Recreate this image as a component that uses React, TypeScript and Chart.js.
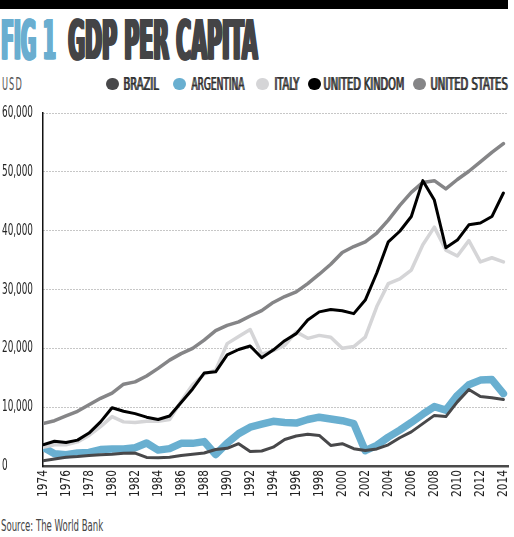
import { useEffect, useLayoutEffect, useRef, useState } from "react";
import Chart from "chart.js/auto";

// years on the x axis
const years = [
  1974, 1975, 1976, 1977, 1978, 1979, 1980, 1981, 1982, 1983, 1984, 1985, 1986, 1987,
  1988, 1989, 1990, 1991, 1992, 1993, 1994, 1995, 1996, 1997, 1998, 1999, 2000, 2001,
  2002, 2003, 2004, 2005, 2006, 2007, 2008, 2009, 2010, 2011, 2012, 2013, 2014,
];
const xTickYears = [
  1974, 1976, 1978, 1980, 1982, 1984, 1986, 1988, 1990, 1992, 1994, 1996, 1998, 2000,
  2002, 2004, 2006, 2008, 2010, 2012, 2014,
];
const yTickValues = [0, 10000, 20000, 30000, 40000, 50000, 60000];

// GDP per capita, USD
const brazil = [
  900, 1200, 1500, 1600, 1800, 1900, 2000, 2150, 2200, 1450, 1400, 1500, 1800, 2000,
  2200, 2800, 3000, 3800, 2450, 2550, 3200, 4500, 5100, 5400, 5200, 3500, 3800, 2950,
  2650, 2900, 3600, 4800, 5800, 7200, 8600, 8400, 10900, 13000, 11800, 11600, 11300,
];
const argentina = [
  3200, 2100, 1900, 2200, 2300, 2800, 2900, 2900, 3100, 3900, 2700, 2950, 3850, 3850,
  4150, 1950, 3900, 5500, 6600, 7100, 7600, 7400, 7300, 7900, 8300, 8000, 7700, 7200,
  2600, 3500, 4900, 6100, 7400, 8800, 10100, 9500, 12000, 13800, 14600, 14700, 12300,
];
const italy = [
  3200, 3600, 3600, 4100, 5200, 6700, 8400, 7500, 7400, 7600, 7600, 7900, 11000, 13800,
  15600, 16300, 20800, 22000, 23200, 19000, 19600, 20500, 22800, 21700, 22200, 21900,
  20000, 20300, 21900, 27100, 31000, 31800, 33300, 37600, 40600, 36700, 35700, 38300,
  34700, 35400, 34700,
];
const unitedKingdom = [
  3600, 4200, 4000, 4400, 5600, 7500, 9900, 9300, 8900, 8300, 7900, 8500, 10800, 13100,
  15800, 16000, 18900, 19800, 20400, 18400, 19700, 21300, 22500, 24800, 26200, 26600,
  26400, 25900, 28200, 32800, 38100, 39900, 42400, 48500, 45200, 37100, 38400, 41000,
  41300, 42400, 46400,
];
const unitedStates = [
  7200, 7700, 8500, 9300, 10400, 11500, 12400, 13900, 14300, 15300, 16600, 18000, 19100,
  20000, 21400, 23000, 23900, 24500, 25500, 26400, 27800, 28800, 29600, 31000, 32600,
  34300, 36300, 37300, 38100, 39600, 41800, 44300, 46500, 48200, 48500, 47100, 48700,
  50100, 51700, 53300, 54800,
];

const seriesNames = ["BRAZIL", "ARGENTINA", "ITALY", "UNITED KINDOM", "UNITED STATES"];

const COLORS = {
  brazil: "#48484a",
  argentina: "#69afd0",
  italy: "#d5d5d7",
  uk: "#000000",
  us: "#858587",
};

const condensed = '"DejaVu Sans Condensed", "Liberation Sans Narrow", "DejaVu Sans", sans-serif';

// text squeezed horizontally to a given width (the original uses a very narrow face)
function Fit(props: {
  text: string;
  left: number;
  top: number;
  width: number;
  size: number;
  color: string;
  weight?: number;
  spacing?: number;
  heavy?: number; // extra horizontal emboldening, in unscaled px
}) {
  const ref = useRef<HTMLSpanElement | null>(null);
  const [k, setK] = useState(1);
  const heavy = props.heavy ?? 0;

  useLayoutEffect(() => {
    if (ref.current) setK(props.width / (ref.current.offsetWidth + heavy));
  }, [props.text, props.width, props.size, heavy]);

  const shadows: string[] = [];
  for (let s = 1.5; s <= heavy; s += 1.5) shadows.push(`${s}px 0 0 ${props.color}`);

  return (
    <span
      ref={ref}
      style={{
        position: "absolute",
        left: props.left,
        top: props.top,
        fontFamily: condensed,
        fontSize: props.size,
        lineHeight: `${props.size}px`,
        fontWeight: props.weight ?? 400,
        letterSpacing: props.spacing ?? 0,
        color: props.color,
        whiteSpace: "nowrap",
        textShadow: shadows.length ? shadows.join(", ") : undefined,
        transform: `scaleX(${k})`,
        transformOrigin: "0 0",
      }}
    >
      {props.text}
    </span>
  );
}

// draws the tick labels in a narrow style, placed by the chart's own scales
const narrowTicks = {
  id: "narrowTicks",
  afterDraw(chart: any) {
    const { ctx, scales } = chart;
    const x = scales.x;
    const y = scales.y;
    ctx.save();
    ctx.fillStyle = "#222";
    ctx.textBaseline = "middle";

    ctx.font = `16px ${condensed}`;
    const ky = 31 / ctx.measureText("60,000").width;
    ctx.textAlign = "left";
    y.ticks.forEach((t: any, i: number) => {
      const py = y.getPixelForTick(i);
      ctx.save();
      ctx.translate(2, py);
      ctx.scale(ky, 1);
      ctx.fillText(t.value.toLocaleString("en-US"), 0, 0);
      ctx.restore();
    });

    ctx.font = `14px ${condensed}`;
    const kx = 27 / ctx.measureText("1974").width;
    ctx.textAlign = "right";
    x.ticks.forEach((t: any, i: number) => {
      const px = x.getPixelForTick(i);
      ctx.save();
      ctx.translate(px, chart.chartArea.bottom + 4);
      ctx.rotate(-Math.PI / 2);
      ctx.scale(kx, 1);
      ctx.fillText(String(t.value), 0, 0);
      ctx.restore();
    });
    ctx.restore();
  },
};

function GdpChart() {
  const canvasRef = useRef<HTMLCanvasElement | null>(null);
  const chartRef = useRef<Chart | null>(null);

  useEffect(() => {
    if (!canvasRef.current) return;
    if (chartRef.current) chartRef.current.destroy();

    const toPoints = (vals: number[]) => vals.map((v, i) => ({ x: years[i], y: v }));

    // first dataset is painted on top
    const datasets = [
      { label: seriesNames[0], data: toPoints(brazil), borderColor: COLORS.brazil, borderWidth: 3 },
      { label: seriesNames[3], data: toPoints(unitedKingdom), borderColor: COLORS.uk, borderWidth: 3 },
      { label: seriesNames[4], data: toPoints(unitedStates), borderColor: COLORS.us, borderWidth: 3.5 },
      { label: seriesNames[2], data: toPoints(italy), borderColor: COLORS.italy, borderWidth: 3.5 },
      { label: seriesNames[1], data: toPoints(argentina), borderColor: COLORS.argentina, borderWidth: 7.5 },
    ].map((d) => ({
      ...d,
      pointRadius: 0,
      tension: 0,
      fill: false,
      borderJoinStyle: "round" as const,
      borderCapStyle: "round" as const,
    }));

    chartRef.current = new Chart(canvasRef.current, {
      type: "line",
      data: { datasets },
      options: {
        animation: false,
        responsive: true,
        maintainAspectRatio: false,
        layout: { padding: { top: 13, left: 2, right: 6, bottom: 0 } },
        plugins: {
          legend: { display: false },
          tooltip: { enabled: false },
        },
        scales: {
          x: {
            type: "linear",
            min: 1974,
            max: 2014.4,
            grid: { display: false },
            border: { display: true, color: "#4a4a4a", width: 2.5 },
            ticks: { display: false },
            afterBuildTicks: (scale: any) => {
              scale.ticks = xTickYears.map((v) => ({ value: v }));
            },
            afterFit: (scale: any) => {
              scale.height = 44;
            },
          },
          y: {
            min: 0,
            max: 60000,
            grid: {
              color: (c: any) => (c.tick && c.tick.value === 0 ? "transparent" : "#8e8e8e"),
              lineWidth: 1,
              drawTicks: false,
            },
            // in Chart.js 4 the grid line dash lives under border
            border: { display: true, color: "#111", width: 1.5, dash: [1, 2] },
            ticks: { display: false, stepSize: 10000 },
            afterBuildTicks: (scale: any) => {
              scale.ticks = yTickValues.map((v) => ({ value: v }));
            },
            afterFit: (scale: any) => {
              scale.width = 41;
            },
          },
        },
      },
      plugins: [narrowTicks],
    });

    return () => {
      if (chartRef.current) {
        chartRef.current.destroy();
        chartRef.current = null;
      }
    };
  }, []);

  return (
    <div style={{ position: "absolute", left: 0, top: 100, width: 514, height: 410 }}>
      <canvas ref={canvasRef} />
    </div>
  );
}

// legend marker positions
const legendCircleX = [106, 173, 256, 308, 413];
const legendTextX = [123, 191, 274, 323, 430];
const legendTextW = [36, 54, 26, 82, 78];
const legendColors = [COLORS.brazil, COLORS.argentina, COLORS.italy, COLORS.uk, COLORS.us];

export default function App() {
  return (
    <div
      style={{
        position: "absolute",
        left: 0,
        top: 0,
        width: 514,
        height: 537,
        background: "#fff",
        overflow: "hidden",
      }}
    >
      <div style={{ position: "absolute", left: 0, top: 0, width: 508, height: 9, background: "#000" }} />

      <Fit text="FIG 1" left={0} top={12} width={57} size={56} color="#6aaed0" weight={700} heavy={6} />
      <Fit text="GDP PER CAPITA" left={67} top={12} width={192} size={56} color="#444446" weight={700} heavy={6} />

      <Fit text="USD" left={2} top={75.5} width={21} size={17} color="#555" spacing={2} />
      {seriesNames.map((name, i) => (
        <div key={name}>
          <div
            style={{
              position: "absolute",
              left: legendCircleX[i],
              top: 77.5,
              width: 12.5,
              height: 12.5,
              borderRadius: "50%",
              background: legendColors[i],
            }}
          />
          <Fit text={name} left={legendTextX[i]} top={75.5} width={legendTextW[i]} size={17} color="#333" heavy={1.5} />
        </div>
      ))}

      <GdpChart />

      <Fit text="Source: The World Bank" left={1} top={518.5} width={102} size={15} color="#444" />
    </div>
  );
}
